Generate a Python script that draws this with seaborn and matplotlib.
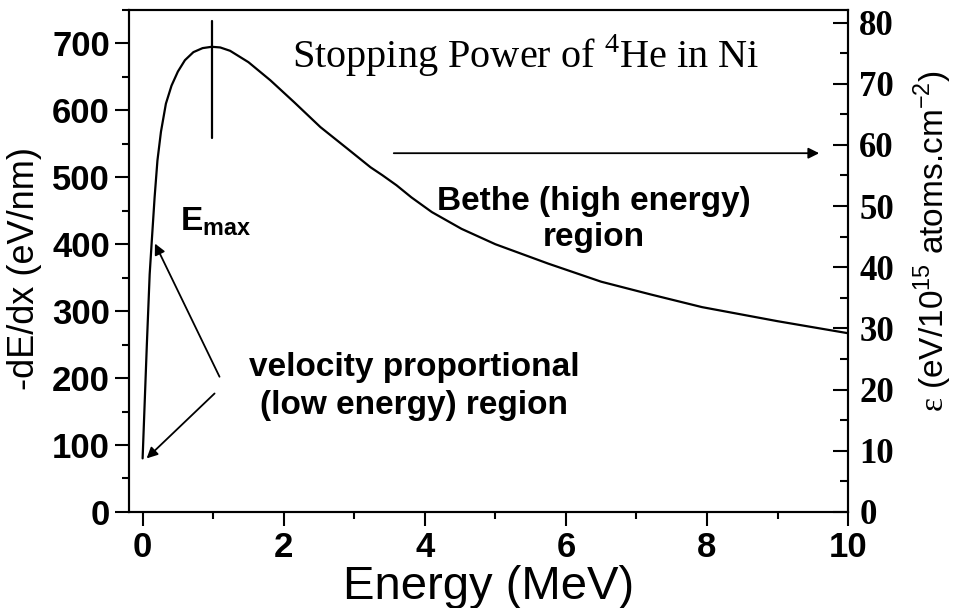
import matplotlib
matplotlib.use("Agg")
import matplotlib.pyplot as plt
import seaborn as sns
import numpy as np
import pandas as pd
from matplotlib.ticker import MultipleLocator

# ---- data ----
energy = [0.0, 0.03, 0.06, 0.10, 0.13, 0.17, 0.21, 0.26, 0.33, 0.41, 0.50, 0.60, 0.72,
          0.85, 0.98, 1.10, 1.24, 1.50, 1.81, 2.15, 2.52, 2.90, 3.23, 3.40, 3.60, 3.81,
          4.10, 4.52, 5.00, 5.75, 6.50, 7.20, 7.93, 9.00, 10.0]
dedx = [80, 165, 250, 355, 405, 470, 525, 568, 610, 637, 658, 675, 687,
        693, 695, 694, 689, 672, 645, 612, 575, 543, 515, 503, 488, 470,
        448, 423, 400, 371, 344, 325, 306, 285, 267]

left_ticks = [0, 100, 200, 300, 400, 500, 600, 700]
right_ticks = [0, 10, 20, 30, 40, 50, 60, 70, 80]
x_ticks = [0, 2, 4, 6, 8, 10]

emax_line_x = [0.98, 0.98]
emax_line_y = [558, 734]

df = pd.DataFrame({"Energy": energy, "dEdx": dedx})

sns.set_theme(style="ticks")
plt.rcParams["font.family"] = ["Liberation Sans", "DejaVu Sans"]
plt.rcParams["mathtext.fontset"] = "custom"
plt.rcParams["mathtext.rm"] = "Liberation Sans"
plt.rcParams["mathtext.bf"] = "Liberation Sans:bold"
plt.rcParams["mathtext.sf"] = "Liberation Serif"
for k in ["text.color", "axes.labelcolor", "xtick.color", "ytick.color", "axes.edgecolor"]:
    plt.rcParams[k] = "black"

fig = plt.figure(figsize=(9.54, 6.08), dpi=100)
ax = fig.add_axes([0.1347, 0.158, 0.7543, 0.8256])

sns.lineplot(data=df, x="Energy", y="dEdx", ax=ax, color="black", linewidth=1.6,
             sort=False, estimator=None)
ax.plot(emax_line_x, emax_line_y, color="black", linewidth=1.6)

ax.set_xlim(-0.2, 10.0)
ax.set_ylim(0, 750)
ax.set_xticks(x_ticks)
ax.set_yticks(left_ticks)
ax.xaxis.set_minor_locator(MultipleLocator(1))
ax.yaxis.set_minor_locator(MultipleLocator(50))
ax.tick_params(axis="both", which="major", direction="out", length=10, width=1.5,
               labelsize=25, colors="black")
ax.tick_params(axis="both", which="minor", direction="out", length=5, width=1.5)
for lab in ax.get_xticklabels() + ax.get_yticklabels():
    lab.set_fontweight("bold")
for s in ax.spines.values():
    s.set_linewidth(1.5)
    s.set_color("black")
    s.set_visible(True)

ax.set_xlabel("Energy (MeV)", fontsize=34)
ax.set_ylabel("-dE/dx (eV/nm)", fontsize=26)
ax.xaxis.set_label_coords(0.5, -0.105)
ax.yaxis.set_label_coords(-0.12, 0.484)

ax2 = ax.twinx()
ax2.set_ylim(0, 750 / 9.14)
ax2.set_yticks(right_ticks)
ax2.yaxis.set_minor_locator(MultipleLocator(5))
ax2.tick_params(axis="y", which="major", direction="in", length=11, width=1.5,
                labelsize=25, pad=8, colors="black")
ax2.tick_params(axis="y", which="minor", direction="in", length=6, width=1.5)
for lab in ax2.get_yticklabels():
    lab.set_fontweight("bold")
    lab.set_fontfamily("Liberation Serif")
for s in ax2.spines.values():
    s.set_linewidth(1.5)
    s.set_color("black")
ax2.set_ylabel(r"$\mathsf{ε}$ (eV/10$^{15}$ atoms.cm$^{-2}$)", fontsize=24)
ax2.yaxis.set_label_coords(1.088, 0.54)

# annotations
ax.text(2.12, 663, r"Stopping Power of $^{\mathsf{4}}$He in Ni", fontsize=29,
        family="Liberation Serif", ha="left", va="baseline")
ax.text(0.53, 421, r"$\mathbf{E_{max}}$", fontsize=24, ha="left", va="baseline")
ax.text(3.85, 187, "velocity proportional\n(low energy) region", fontsize=24,
        fontweight="bold", ha="center", va="center", linespacing=1.3)
ax.text(6.39, 437, "Bethe (high energy)\nregion", fontsize=24,
        fontweight="bold", ha="center", va="center", linespacing=1.2)

arrow = dict(arrowstyle="-|>", color="black", lw=1.3, mutation_scale=16,
             shrinkA=0, shrinkB=0)
ax.annotate("", xy=(0.175, 401), xytext=(1.09, 202), arrowprops=arrow)
ax.annotate("", xy=(0.057, 80), xytext=(1.02, 177), arrowprops=arrow)
ax.annotate("", xy=(9.59, 536), xytext=(3.56, 536), arrowprops=arrow)

fig.savefig("out.png", dpi=100)
